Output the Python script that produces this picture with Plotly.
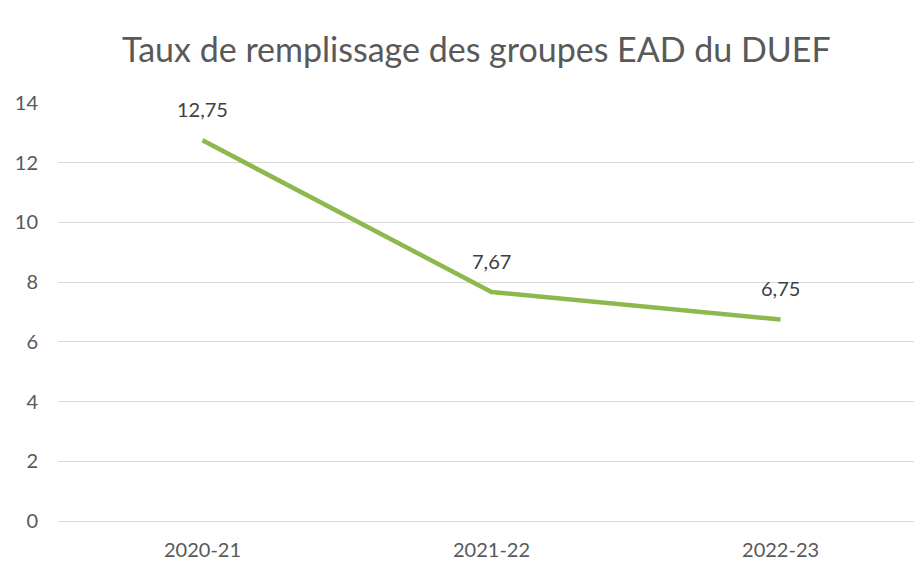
import plotly.graph_objects as go

years = ["2020-21", "2021-22", "2022-23"]
taux = [12.75, 7.67, 6.75]
labels = ["12,75", "7,67", "6,75"]
y_ticks = [0, 2, 4, 6, 8, 10, 12, 14]

FONT = "Lato, Open Sans, sans-serif"

fig = go.Figure()
fig.add_trace(go.Scatter(
    x=years,
    y=taux,
    mode="lines",
    line=dict(color="#8cb84e", width=4.5),
    hoverinfo="skip",
))

# data labels above each point
for x, y, t in zip(years, taux, labels):
    fig.add_annotation(
        x=x, y=y, text=t, showarrow=False, yshift=31,
        font=dict(family=FONT, size=20, color="#404040"),
    )

# page has an 8px body margin, so margins are offset by it
fig.update_layout(
    width=922,
    height=562,
    margin=dict(l=50, r=0, t=95, b=49),
    paper_bgcolor="white",
    plot_bgcolor="white",
    showlegend=False,
    font=dict(family=FONT, color="#595959"),
    title=dict(
        text="Taux de remplissage des groupes EAD du DUEF",
        x=0.508, xanchor="center", y=0.925, yanchor="middle",
        font=dict(size=34, color="#595959"),
    ),
)
fig.update_xaxes(
    type="category",
    range=[-0.5, 2.517],
    showgrid=False,
    showline=False,
    ticks="",
    ticklabelstandoff=15,
    tickfont=dict(size=20, color="#595959"),
)
fig.update_yaxes(
    range=[0, 14],
    tickvals=y_ticks,
    showgrid=True,
    gridcolor="#d9d9d9",
    gridwidth=1,
    zeroline=True,
    zerolinecolor="#d9d9d9",
    zerolinewidth=1,
    ticks="",
    ticklabelstandoff=19,
    tickfont=dict(size=20, color="#595959"),
)

fig.write_html("out.html")
